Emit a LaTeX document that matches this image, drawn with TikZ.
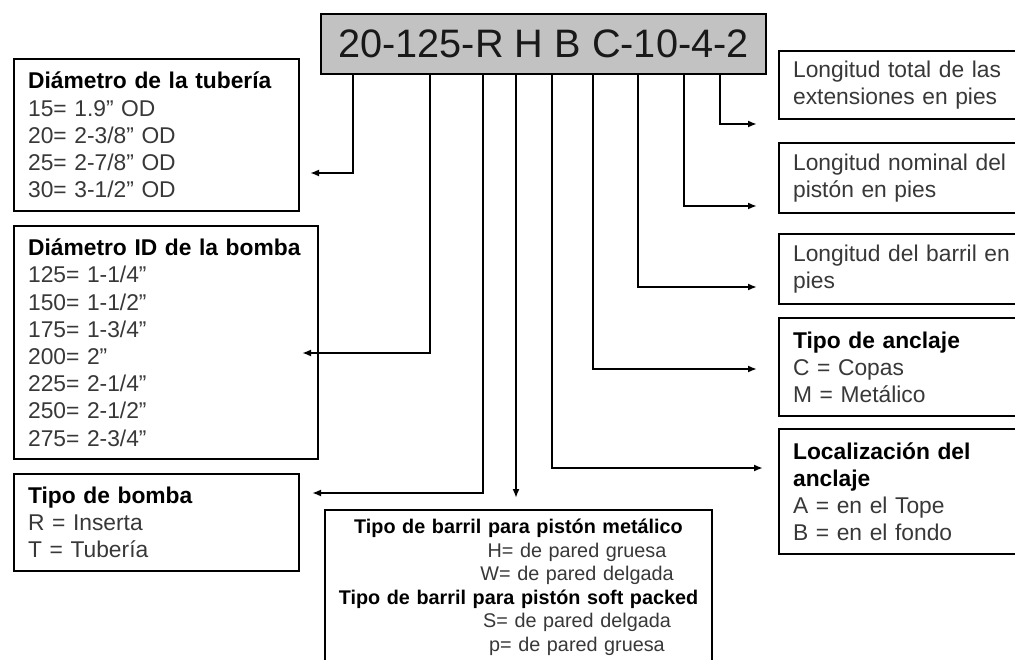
\documentclass[tikz,border=0pt]{standalone}
\usepackage{fontspec}
\setmainfont{Liberation Sans}
\usetikzlibrary{arrows.meta}

\begin{document}
\begin{tikzpicture}[x=1pt,y=-1pt,
		caja/.style={draw,line width=2.2pt,anchor=north west,align=left,inner xsep=14pt,inner ysep=0pt,text=black!78,font=\fontsize{22.8}{27.2}\selectfont},
		flecha/.style={line width=2pt,-{Latex[length=9pt,width=7pt]}}]
			\useasboundingbox (0,0) rectangle (1015,660);
			\clip (0,0) rectangle (1015,660);
			\fill[white] (0,0) rectangle (1015,660);
			
			\node[caja,fill=black!24,align=center,text=black!90,minimum width=445pt,minimum height=60pt,font=\fontsize{39.7}{44}\selectfont] (codigo) at (320,13) {20-125-R H B C-10-4-2};
			
			\node[caja,text width=257pt,minimum height=152pt] (tuberia) at (13,58) {{\color{black}\bfseries Diámetro de la tubería}\\15= 1.9" OD\\20= 2-3/8" OD\\25= 2-7/8" OD\\30= 3-1/2" OD};
			\node[caja,text width=276pt,minimum height=233pt] (bomba) at (13,225) {{\color{black}\bfseries Diámetro ID de la bomba}\\125= 1-1/4"\\150= 1-1/2"\\175= 1-3/4"\\200= 2"\\225= 2-1/4"\\250= 2-1/2"\\275= 2-3/4"};
			\node[caja,text width=257pt,minimum height=97pt] (tipobomba) at (13,473) {{\color{black}\bfseries Tipo de bomba}\\R = Inserta\\T = Tubería};
			
			\node[caja,anchor=north,text width=375pt,inner xsep=6pt,align=center,inner ysep=9pt,font=\fontsize{19.8}{23.5}\selectfont] (barril) at (518.5,509) {{\color{black}\bfseries Tipo de barril para pistón metálico}\\\hspace*{117pt}H= de pared gruesa\\\hspace*{117pt}W= de pared delgada\\{\color{black}\bfseries Tipo de barril para pistón soft packed}\\\hspace*{117pt}S= de pared delgada\\\hspace*{117pt}p= de pared gruesa\\[6pt]};
			
			\node[caja,text width=232pt,minimum height=68pt] (extensiones) at (778,50) {Longitud total de las\\extensiones en pies};
			\node[caja,text width=232pt,minimum height=70pt] (piston) at (778,142) {Longitud nominal del\\pistón en pies};
			\node[caja,text width=232pt,minimum height=70pt] (largobarril) at (778,233) {Longitud del barril en\\pies};
			\node[caja,text width=232pt,minimum height=98pt] (anclaje) at (778,317) {{\color{black}\bfseries Tipo de anclaje}\\C = Copas\\M = Metálico};
			\node[caja,text width=232pt,minimum height=125pt] (localizacion) at (778,428) {{\color{black}\bfseries Localización del}\\{\color{black}\bfseries anclaje}\\A = en el Tope\\B = en el fondo};
			
			% puntas de las flechas
			\coordinate (f1) at (310,173);
			\coordinate (f2) at (302,353);
			\coordinate (f3) at (312,493);
			\coordinate (f4) at (516,498);
			\coordinate (f5) at (763,468);
			\coordinate (f6) at (757,369);
			\coordinate (f7) at (757,287);
			\coordinate (f8) at (757,206);
			\coordinate (f9) at (757,124);
			
			\draw[flecha] (353,0 |- codigo.south) |- (f1);
			\draw[flecha] (430,0 |- codigo.south) |- (f2);
			\draw[flecha] (483,0 |- codigo.south) |- (f3);
			\draw[flecha] (516,0 |- codigo.south) -- (f4);
			\draw[flecha] (552,0 |- codigo.south) |- (f5);
			\draw[flecha] (593,0 |- codigo.south) |- (f6);
			\draw[flecha] (638,0 |- codigo.south) |- (f7);
			\draw[flecha] (684,0 |- codigo.south) |- (f8);
			\draw[flecha] (720,0 |- codigo.south) |- (f9);
		\end{tikzpicture}
\end{document}
